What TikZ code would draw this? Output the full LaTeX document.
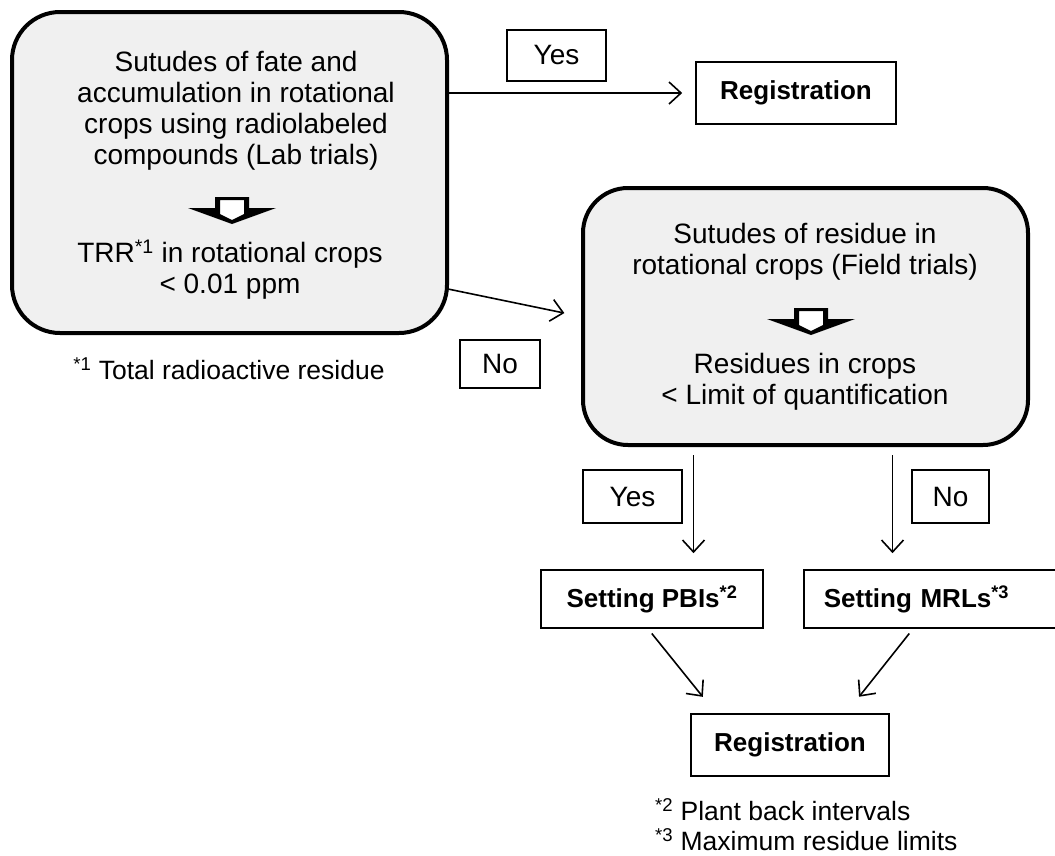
\documentclass[tikz,border=0pt]{standalone}
\usepackage{fontspec}
\setmainfont{Liberation Sans}
\usetikzlibrary{arrows.meta,positioning}
\definecolor{boxgray}{RGB}{240,240,240}

\begin{document}
\begin{tikzpicture}[
    x=1pt, y=-1pt,
    rbox/.style={draw, line width=4pt, rounded corners=48pt, fill=boxgray},
    box/.style={draw, line width=1.6pt, font=\bfseries\fontsize{26}{30}\selectfont},
    tag/.style={draw, line width=1.6pt, minimum height=52pt, font=\fontsize{28}{31}\selectfont},
    txt/.style={align=center, inner sep=0pt, font=\fontsize{28}{31}\selectfont},
    note/.style={align=left, inner sep=0pt, font=\fontsize{26.5}{30}\selectfont},
    hollow/.style={fill=black, even odd rule},
    link/.style={-{Straight Barb[length=12pt, width=22pt]}, line width=1.6pt}
]
\useasboundingbox (0,0) rectangle (1055,855);

% lab trials
\node[rbox, minimum width=435pt, minimum height=321pt] (lab) at (229.5,172.5) {};
\node[txt] (labtop) at (236,111) {Sutudes of fate and\\accumulation in rotational\\crops using radiolabeled\\compounds (Lab trials)};
\node[txt] (labbot) at (230,270) {TRR\textsuperscript{*1} in rotational crops\\< 0.01 ppm};
\coordinate (labarr) at (232,197);
\fill[white] (labarr) ++(-13,2) rectangle ++(26,20);
\fill[hollow] (labarr) ++(-17,0) -- ++(34,0) -- ++(0,11) -- ++(27,0) -- ++(-44,16) -- ++(-44,-16) -- ++(27,0) -- cycle
  (labarr) ++(-12,3) -- ++(24,0) -- ++(0,14) -- ++(-12,6) -- ++(-12,-6) -- cycle;
\node[note] (fn1) at (229,369) {\textsuperscript{*1} Total radioactive residue};

% field trials
\node[rbox, minimum width=445pt, minimum height=257pt, rounded corners=45pt] (field) at (805.5,316.5) {};
\node[txt] (fieldtop) at (805,252) {Sutudes of residue in\\rotational crops (Field trials)};
\node[txt] (fieldbot) at (805,382) {Residues in crops\\< Limit of quantification};
\coordinate (fieldarr) at (811,308);
\fill[white] (fieldarr) ++(-13,2) rectangle ++(26,20);
\fill[hollow] (fieldarr) ++(-17,0) -- ++(34,0) -- ++(0,11) -- ++(27,0) -- ++(-44,16) -- ++(-44,-16) -- ++(27,0) -- cycle
  (fieldarr) ++(-12,3) -- ++(24,0) -- ++(0,14) -- ++(-12,6) -- ++(-12,-6) -- cycle;

% results
\node[box, minimum width=200pt, minimum height=62pt] (reg1) at (796,93) {Registration};
\node[box, minimum width=222pt, minimum height=58pt] (pbi) at (652,599) {Setting PBIs\textsuperscript{*2}};
\node[box, anchor=west, text width=220pt, align=left, inner xsep=20pt, minimum height=58pt] (mrl) at (803,599) {Setting MRLs\textsuperscript{*3}};
\node[box, minimum width=198pt, minimum height=62pt] (reg2) at (790,745) {Registration};
\node[note, anchor=west] (fn23) at (655,825) {\textsuperscript{*2} Plant back intervals\\\textsuperscript{*3} Maximum residue limits};

% answers
\node[tag, minimum width=99pt, minimum height=51pt] (yes1) at (556.5,55.5) {Yes};
\node[tag, minimum width=80pt, minimum height=48pt] (no1) at (500,364) {No};
\node[tag, minimum width=99pt, minimum height=53pt] (yes2) at (632.5,496.5) {Yes};
\node[tag, minimum width=77pt, minimum height=53pt] (no2) at (950.5,496.5) {No};

% connectors
\draw[link, shorten >=13pt] (lab.east |- reg1.west) -- (reg1.west);
\draw[link, shorten >=17pt] (lab.-28) -- (field.west);
\draw[link, shorten <=8pt, shorten >=16pt] ([xshift=-112pt]field.south) -- ([xshift=-112pt]field.south |- pbi.north);
\draw[link, shorten <=8pt, shorten >=16pt] ([xshift=87pt]field.south) -- ([xshift=87pt]field.south |- mrl.north);
\draw[link, shorten <=6pt, shorten >=21pt] ([xshift=-4pt]pbi.south) -- ([xshift=-74pt]reg2.north);
\draw[link, shorten <=6pt, shorten >=21pt] ([xshift=110pt]mrl.south west) -- ([xshift=56pt]reg2.north);
\end{tikzpicture}
\end{document}
